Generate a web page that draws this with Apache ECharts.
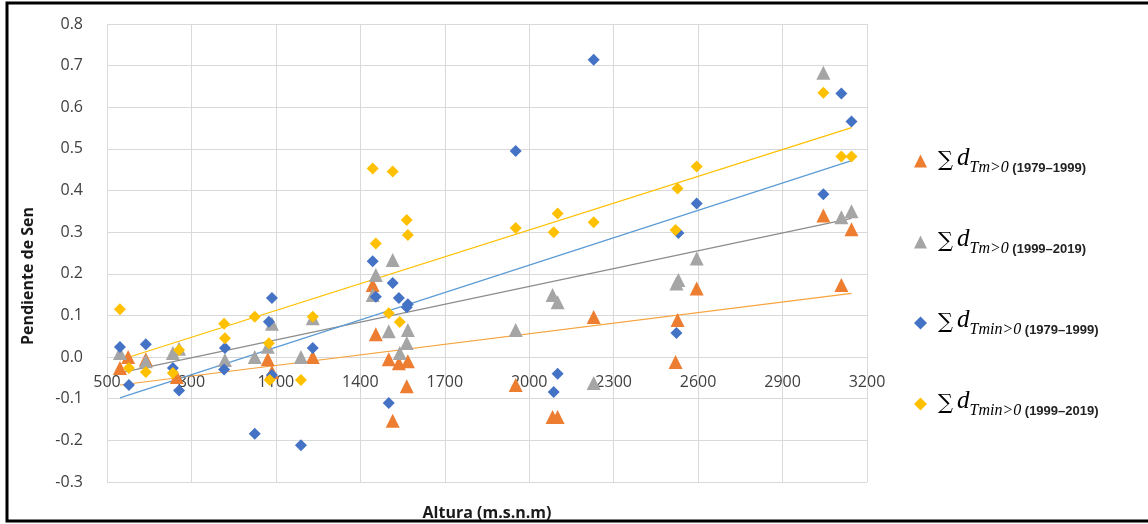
<!DOCTYPE html>
<html style="height: 100%">
<head>
    <meta charset="utf-8">
    <title>Pendiente de Sen vs Altura</title>
    <style>
        html, body { margin: 0; padding: 0; background: #fff; }
    </style>
</head>
<body>
<div id="container" style="width: 1148px; height: 524px"></div>

<script src="https://cdn.jsdelivr.net/npm/echarts@6.0.0/dist/echarts.min.js" type="text/javascript"></script>

<script type="text/javascript">

    // Tm>0 1979-1999 (orange triangles)
    var tmAx = [546, 575, 638, 748, 1071, 1086, 1231, 1444, 1455, 1501, 1537, 1569, 1565, 1515, 1952, 2083, 2101, 2229, 2527, 2520, 2595, 3045, 3145, 3109];
    var tmAy = [-0.026, 0.0, -0.005, -0.048, -0.005, -0.036, 0.0, 0.173, 0.055, -0.005, -0.015, -0.01, -0.07, -0.153, -0.067, -0.144, -0.144, 0.096, 0.089, -0.012, 0.165, 0.34, 0.307, 0.173];

    // Tm>0 1999-2019 (grey triangles)
    var tmBx = [546, 638, 734, 756, 919, 1025, 1086, 1071, 1189, 1231, 1515, 1455, 1444, 1501, 1569, 1565, 1540, 1952, 2083, 2101, 2229, 2523, 2530, 2595, 3045, 3109, 3145];
    var tmBy = [0.01, -0.01, 0.01, 0.02, -0.007, 0.0, 0.08, 0.025, 0.0, 0.093, 0.233, 0.197, 0.149, 0.062, 0.065, 0.034, 0.01, 0.065, 0.149, 0.132, -0.062, 0.177, 0.185, 0.237, 0.683, 0.336, 0.35];

    // Tmin>0 1979-1999 (blue diamonds)
    var tminAx = [546, 578, 638, 734, 756, 919, 916, 1025, 1075, 1086, 1086, 1189, 1231, 1952, 1444, 1455, 1515, 1537, 1569, 1565, 1501, 2101, 2087, 2229, 2523, 2530, 2595, 3109, 3145, 3045];
    var tminAy = [0.024, -0.067, 0.031, -0.026, -0.08, 0.022, -0.03, -0.184, 0.085, 0.142, -0.043, -0.212, 0.022, 0.495, 0.23, 0.145, 0.178, 0.142, 0.127, 0.12, -0.11, -0.04, -0.084, 0.714, 0.058, 0.298, 0.369, 0.633, 0.566, 0.391];

    // Tmin>0 1999-2019 (yellow diamonds)
    var tminBx = [546, 578, 638, 734, 756, 916, 919, 1025, 1075, 1078, 1189, 1231, 1444, 1515, 1455, 1565, 1569, 1501, 1540, 1952, 2087, 2101, 2229, 2527, 2520, 2595, 3045, 3109, 3145];
    var tminBy = [0.115, -0.026, -0.036, -0.038, 0.017, 0.08, 0.045, 0.097, 0.033, -0.055, -0.055, 0.097, 0.453, 0.446, 0.273, 0.329, 0.293, 0.105, 0.084, 0.31, 0.3, 0.345, 0.324, 0.405, 0.305, 0.458, 0.635, 0.482, 0.482];

    // trend lines, end points
    var trendX = [546, 3145];
    var trendTmA = [-0.067, 0.153];
    var trendTmB = [-0.038, 0.333];
    var trendTminA = [-0.098, 0.472];
    var trendTminB = [-0.007, 0.551];

    var xTicks = {min: 500, max: 3200, step: 300};
    var yTicks = {min: -0.3, max: 0.8, step: 0.1};

    var legendParts = {
        tmA: ['Tm>0', '(1979\u20131999)'],
        tmB: ['Tm>0', '(1999\u20132019)'],
        tminA: ['Tmin>0', '(1979\u20131999)'],
        tminB: ['Tmin>0', '(1999\u20132019)']
    };

    function pairs(xs, ys) {
        var out = [];
        for (var i = 0; i < xs.length; i++) out.push([xs[i], ys[i]]);
        return out;
    }

    var dom = document.getElementById("container");
    var myChart = echarts.init(dom);

    var orange = '#ED7D31', grey = '#A5A5A5', blue = '#4472C4', yellow = '#FFC000';

    // the x axis sits on y = 0: shift it up from the grid bottom
    var gridTop = 24, gridBottom = 42, chartH = 524;
    var plotH = chartH - gridTop - gridBottom;
    var zeroOffset = -plotH * (0 - yTicks.min) / (yTicks.max - yTicks.min);

    function trend(ys, color) {
        return {
            type: 'line',
            data: pairs(trendX, ys),
            symbol: 'none',
            silent: true,
            lineStyle: {color: color, width: 1.2},
            z: 1
        };
    }

    function scatter(name, xs, ys, symbol, size, color) {
        return {
            name: name,
            type: 'scatter',
            data: pairs(xs, ys),
            symbol: symbol,
            symbolSize: size,
            itemStyle: {color: color, opacity: 1},
            z: 3
        };
    }

    var option = {
        animation: false,
        grid: {left: 107, right: 281, top: gridTop, bottom: gridBottom, outerBoundsMode: 'none', containLabel: false},
        graphic: [{
            type: 'rect',
            shape: {x: 7, y: 3, width: 1160, height: 518},
            style: {fill: 'none', stroke: '#000', lineWidth: 3},
            silent: true
        }],
        legend: {
            orient: 'vertical',
            left: 909,
            top: 141,
            itemGap: 51,
            itemWidth: 13,
            itemHeight: 13,
            data: [
                {name: 'tmA', icon: 'triangle'},
                {name: 'tmB', icon: 'triangle'},
                {name: 'tminA', icon: 'diamond'},
                {name: 'tminB', icon: 'diamond'}
            ],
            formatter: function (name) {
                var p = legendParts[name];
                return '{s|\u2211}{d|d}{sub|' + p[0] + '}{yr| ' + p[1] + '}';
            },
            textStyle: {
                color: '#000',
                rich: {
                    s: {fontFamily: 'DejaVu Serif', fontSize: 21, verticalAlign: 'bottom', padding: [0, 4, 5, 6]},
                    d: {fontFamily: 'Liberation Serif', fontStyle: 'italic', fontSize: 25, verticalAlign: 'bottom', padding: [0, 0, 5, 0]},
                    sub: {fontFamily: 'Liberation Serif', fontStyle: 'italic', fontSize: 16, verticalAlign: 'bottom'},
                    yr: {fontFamily: 'Liberation Sans', fontWeight: 'bold', fontSize: 13, color: '#222', verticalAlign: 'bottom', padding: [0, 0, 1, 0]}
                }
            }
        },
        xAxis: {
            type: 'value',
            min: xTicks.min,
            max: xTicks.max,
            interval: xTicks.step,
            offset: zeroOffset,
            name: 'Altura (m.s.n.m)',
            nameLocation: 'middle',
            nameGap: 148,
            nameTextStyle: {fontFamily: 'Open Sans', fontWeight: 'bold', fontSize: 16, color: '#1a1a1a'},
            axisLine: {onZero: false, lineStyle: {color: '#d9d9d9'}},
            axisTick: {show: false},
            axisLabel: {
                margin: 17,
                fontFamily: 'Open Sans',
                fontSize: 16,
                color: '#404040',
                formatter: function (v) { return String(v); }
            },
            splitLine: {lineStyle: {color: '#d9d9d9'}}
        },
        yAxis: {
            type: 'value',
            min: yTicks.min,
            max: yTicks.max,
            interval: yTicks.step,
            name: 'Pendiente de Sen',
            nameLocation: 'middle',
            nameGap: 71,
            nameRotate: 90,
            nameTextStyle: {fontFamily: 'Open Sans', fontWeight: 'bold', fontSize: 16, color: '#1a1a1a', padding: [0, 46, 0, 0]},
            axisLine: {show: false},
            axisTick: {show: false},
            axisLabel: {
                margin: 24,
                fontFamily: 'Open Sans',
                fontSize: 16,
                color: '#404040',
                formatter: function (v) { return v.toFixed(1); }
            },
            splitLine: {lineStyle: {color: '#d9d9d9'}}
        },
        series: [
            trend(trendTmA, '#F8A33C'),
            trend(trendTmB, '#8C8C8C'),
            trend(trendTminA, '#5B9BD5'),
            trend(trendTminB, '#FFC000'),
            scatter('tmA', tmAx, tmAy, 'triangle', 14, orange),
            scatter('tmB', tmBx, tmBy, 'triangle', 14, grey),
            scatter('tminA', tminAx, tminAy, 'diamond', 12, blue),
            scatter('tminB', tminBx, tminBy, 'diamond', 12, yellow)
        ]
    };

    myChart.setOption(option);
</script>
</body>
</html>
